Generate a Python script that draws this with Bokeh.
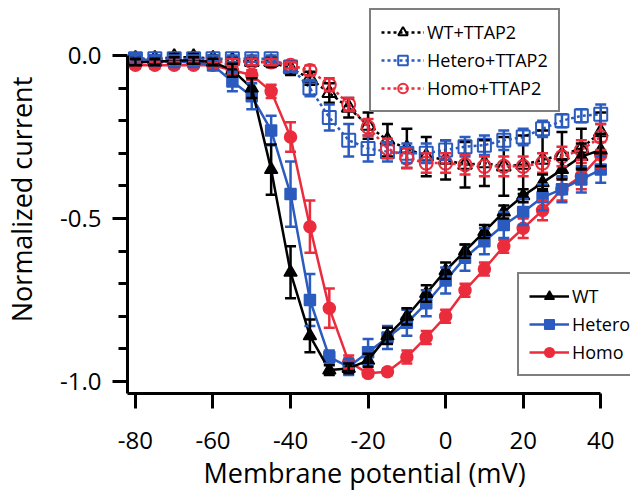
from bokeh.plotting import figure
from bokeh.models import (ColumnDataSource, Whisker, TeeHead, Legend, LegendItem,
                          FixedTicker, PrintfTickFormatter, Range1d, Title)
from bokeh.core.properties import value
from bokeh.embed import file_html
from bokeh.resources import INLINE

voltage = [-80, -75, -70, -65, -60, -55, -50, -45, -40, -35, -30, -25, -20,
           -15, -10, -5, 0, 5, 10, 15, 20, 25, 30, 35, 40]

wt = [-0.02, -0.02, -0.015, -0.015, -0.02, -0.045, -0.10, -0.35, -0.665, -0.86,
      -0.965, -0.96, -0.935, -0.86, -0.80, -0.73, -0.66, -0.60, -0.54, -0.48,
      -0.43, -0.39, -0.35, -0.31, -0.29]
wt_err = [0.01, 0.01, 0.01, 0.01, 0.01, 0.02, 0.03, 0.077, 0.08, 0.05,
          0.015, 0.015, 0.02, 0.025, 0.025, 0.025, 0.025, 0.02, 0.02, 0.02,
          0.02, 0.025, 0.03, 0.04, 0.05]

hetero = [-0.01, -0.015, -0.02, -0.02, -0.03, -0.08, -0.125, -0.23, -0.425, -0.75,
          -0.925, -0.955, -0.91, -0.865, -0.82, -0.76, -0.69, -0.62, -0.57, -0.52,
          -0.48, -0.435, -0.41, -0.38, -0.35]
hetero_err = [0.015, 0.015, 0.015, 0.015, 0.015, 0.03, 0.04, 0.045, 0.1, 0.08,
              0.02, 0.025, 0.04, 0.035, 0.04, 0.04, 0.04, 0.04, 0.04, 0.04,
              0.04, 0.04, 0.04, 0.04, 0.04]

homo = [-0.03, -0.03, -0.03, -0.03, -0.03, -0.045, -0.06, -0.11, -0.25, -0.525,
        -0.775, -0.94, -0.975, -0.97, -0.925, -0.865, -0.80, -0.72, -0.655, -0.585,
        -0.53, -0.475, -0.41, -0.37, -0.305]
homo_err = [0.01, 0.01, 0.01, 0.01, 0.01, 0.01, 0.015, 0.02, 0.045, 0.08,
            0.06, 0.02, 0.01, 0.01, 0.02, 0.02, 0.02, 0.02, 0.02, 0.02,
            0.03, 0.03, 0.035, 0.04, 0.04]

wt_ttap2 = [-0.01, -0.01, -0.005, -0.005, -0.01, -0.015, -0.02, -0.02, -0.04, -0.07,
            -0.115, -0.16, -0.215, -0.26, -0.285, -0.31, -0.32, -0.335, -0.33, -0.34,
            -0.335, -0.32, -0.305, -0.285, -0.235]
wt_ttap2_err = [0.01, 0.01, 0.01, 0.01, 0.01, 0.01, 0.01, 0.015, 0.02, 0.02,
                0.03, 0.03, 0.04, 0.05, 0.06, 0.06, 0.06, 0.07, 0.07, 0.09,
                0.09, 0.09, 0.07, 0.06, 0.06]

hetero_ttap2 = [-0.01, -0.01, -0.01, -0.01, -0.01, -0.01, -0.01, -0.01, -0.035, -0.10,
                -0.19, -0.26, -0.285, -0.295, -0.30, -0.30, -0.29, -0.28, -0.275, -0.26,
                -0.25, -0.225, -0.20, -0.185, -0.18]
hetero_ttap2_err = [0.01, 0.01, 0.01, 0.01, 0.01, 0.01, 0.01, 0.01, 0.015, 0.025,
                    0.04, 0.05, 0.04, 0.03, 0.03, 0.03, 0.03, 0.03, 0.03, 0.03,
                    0.025, 0.025, 0.02, 0.02, 0.03]

homo_ttap2 = [-0.02, -0.02, -0.02, -0.02, -0.02, -0.02, -0.02, -0.02, -0.03, -0.046,
              -0.09, -0.15, -0.22, -0.285, -0.315, -0.33, -0.33, -0.335, -0.34, -0.34,
              -0.34, -0.33, -0.31, -0.29, -0.25]
homo_ttap2_err = [0.01, 0.01, 0.01, 0.01, 0.01, 0.01, 0.01, 0.01, 0.01, 0.015,
                  0.02, 0.02, 0.025, 0.03, 0.03, 0.03, 0.03, 0.03, 0.03, 0.03,
                  0.03, 0.03, 0.03, 0.03, 0.04]

x_ticks = [-80, -60, -40, -20, 0, 20, 40]
y_ticks = [-1.0, -0.5, 0.0]
y_minor = [-0.9, -0.8, -0.7, -0.6, -0.4, -0.3, -0.2, -0.1]

BLACK = "#000000"
BLUE = "#2b5bbf"
RED = "#ea2c3c"
FONT = "Open Sans"

p = figure(width=630, height=492, output_backend="svg", toolbar_location=None,
           x_range=Range1d(-82.05, 47.68), y_range=Range1d(-1.0368, 0.1534),
           min_border_left=123, min_border_right=0, min_border_top=5,
           min_border_bottom=99)
p.outline_line_color = None
p.xgrid.visible = False
p.ygrid.visible = False
p.background_fill_color = "white"
p.border_fill_color = "white"

# axes
for ax in (p.xaxis[0], p.yaxis[0]):
    ax.axis_line_width = 3
    ax.axis_line_color = "black"
    ax.major_tick_line_width = 3
    ax.minor_tick_line_width = 3
    ax.major_tick_in = 0
    ax.minor_tick_in = 0
    ax.major_label_text_font = FONT
    ax.major_label_text_font_size = "24px"
    ax.major_label_text_color = "black"
    ax.axis_label_text_font = FONT
    ax.axis_label_text_font_size = "27px"
    ax.axis_label_text_font_style = "normal"
    ax.axis_label_text_color = "black"

p.xaxis.ticker = FixedTicker(ticks=x_ticks, minor_ticks=[])
p.xaxis.formatter = PrintfTickFormatter(format="%d")
p.xaxis.bounds = (-82.05, 40)
p.xaxis.major_tick_out = 15
p.xaxis.minor_tick_out = 0
p.xaxis.major_label_standoff = 23

p.add_layout(Title(text="Membrane potential (mV)", align="left", offset=76,
                   text_font=FONT, text_font_size="27px", text_font_style="normal",
                   text_color="black", standoff=0), "below")

p.yaxis.ticker = FixedTicker(ticks=y_ticks, minor_ticks=y_minor)
p.yaxis.formatter = PrintfTickFormatter(format="%.1f")
p.yaxis.bounds = (-1.0368, 0)
p.yaxis.major_tick_out = 15
p.yaxis.minor_tick_out = 9
p.yaxis.major_label_standoff = 11
p.yaxis.axis_label = "Normalized current"
p.yaxis.axis_label_standoff = 17


def series(vals, errs, color, marker, size, dashed, fill):
    src = ColumnDataSource(dict(x=voltage, y=vals,
                                lo=[v - e for v, e in zip(vals, errs)],
                                hi=[v + e for v, e in zip(vals, errs)]))
    if dashed:
        line = p.line("x", "y", source=src, line_color=color, line_width=2.5,
                      line_dash="3 3")
    else:
        line = p.line("x", "y", source=src, line_color=color, line_width=2.5)
    w = Whisker(source=src, base="x", upper="hi", lower="lo",
                line_color=color, line_width=2.5, level="glyph",
                upper_head=TeeHead(size=11, line_color=color, line_width=2.5),
                lower_head=TeeHead(size=11, line_color=color, line_width=2.5))
    p.add_layout(w)
    if fill:
        sc = p.scatter("x", "y", source=src, marker=marker, size=size,
                       line_color=color, fill_color=color, line_width=1.5)
    else:
        sc = p.scatter("x", "y", source=src, marker=marker, size=size,
                       line_color=color, fill_alpha=0, line_width=2)
    return [line, sc]


r_wt_t = series(wt_ttap2, wt_ttap2_err, BLACK, "triangle", 14, True, False)
r_het_t = series(hetero_ttap2, hetero_ttap2_err, BLUE, "square", 13, True, False)
r_homo_t = series(homo_ttap2, homo_ttap2_err, RED, "circle", 13, True, False)
r_homo = series(homo, homo_err, RED, "circle", 12, False, True)
r_het = series(hetero, hetero_err, BLUE, "square", 11, False, True)
r_wt = series(wt, wt_err, BLACK, "triangle", 13, False, True)


def make_legend(items, loc, gw):
    leg = Legend(items=items, location=loc)
    leg.border_line_color = "black"
    leg.border_line_width = 2.5
    leg.background_fill_color = "white"
    leg.background_fill_alpha = 1
    leg.label_text_font = FONT
    leg.label_text_font_size = "18px"
    leg.label_text_color = "black"
    leg.glyph_width = gw
    leg.glyph_height = 24
    leg.label_height = 24
    leg.spacing = 4
    leg.padding = 10
    leg.margin = 0
    leg.label_standoff = 3
    return leg


top_leg = make_legend([LegendItem(label="WT+TTAP2", renderers=r_wt_t),
                       LegendItem(label="Hetero+TTAP2", renderers=r_het_t),
                       LegendItem(label="Homo+TTAP2", renderers=r_homo_t)],
                      (242, 281), 43)
bot_leg = make_legend([LegendItem(label="WT", renderers=r_wt),
                       LegendItem(label="Hetero", renderers=r_het),
                       LegendItem(label="Homo", renderers=r_homo)],
                      (390, 17), 40)
p.add_layout(top_leg)
p.add_layout(bot_leg)

open("out.html", "w").write(file_html(p, INLINE))
